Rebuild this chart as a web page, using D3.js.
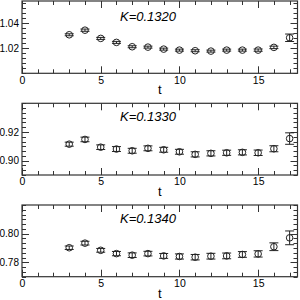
<!DOCTYPE html>
<html><head><meta charset="utf-8">
<script src="https://cdn.jsdelivr.net/npm/d3@7"></script>
<style>body{margin:0;background:#fff}svg{display:block}text{font-family:"Liberation Sans",Arial,sans-serif}</style>
</head><body>
<script>
// ---- data ----
const tValues = [3,4,5,6,7,8,9,10,11,12,13,14,15,16,17];
const panelLabels = ["K=0.1320","K=0.1330","K=0.1340"];
const values1320 = [1.0309,1.0346,1.0280,1.0248,1.0213,1.0210,1.0194,1.0186,1.0181,1.0178,1.0186,1.0186,1.0186,1.0208,1.0285];
const errors1320 = [0.0008,0.0009,0.0008,0.0008,0.0008,0.0008,0.0008,0.0008,0.0008,0.0008,0.0008,0.0008,0.0009,0.0010,0.0030];
const values1330 = [0.9115,0.9148,0.9094,0.9081,0.9069,0.9086,0.9076,0.9062,0.9044,0.9051,0.9055,0.9058,0.9055,0.9083,0.9154];
const errors1330 = [0.0014,0.0016,0.0016,0.0017,0.0017,0.0017,0.0017,0.0017,0.0018,0.0018,0.0018,0.0018,0.0019,0.0021,0.0040];
const values1340 = [0.7902,0.7934,0.7884,0.7861,0.7850,0.7861,0.7845,0.7841,0.7836,0.7843,0.7845,0.7855,0.7859,0.7909,0.7971];
const errors1340 = [0.0012,0.0013,0.0013,0.0015,0.0016,0.0016,0.0017,0.0018,0.0019,0.0020,0.0020,0.0020,0.0022,0.0027,0.0048];
const xDomain = [0, 17.5];
const xMajorTicks = [0,5,10,15];
const xMinorTicks = d3.range(0,18,1);
const yDomains = [[1.0,1.058],[0.89,0.94],[0.77,0.82]];
const yMajorTicks = [[1.02,1.04],[0.90,0.92],[0.78,0.80]];
const yMinorSteps = [0.004, 0.02/6, 0.02/6];
const yTickFormat = d3.format(".2f");
const xLabel = "t";

// ---- layout ----
const left = 22, right = 297.5;
const tops = [1, 103.3, 205];
const bottoms = [73.3, 175, 276.7];
const labelOffsets = [20, 18, 17.5];
const labelX = 120;
const frameColor = "#333";

const svg = d3.select("body").append("svg").attr("width",300).attr("height",300);
const x = d3.scaleLinear().domain(xDomain).range([left,right]);

const seriesValues = [values1320, values1330, values1340];
const seriesErrors = [errors1320, errors1330, errors1340];

seriesValues.forEach((vals, p) => {
  const y = d3.scaleLinear().domain(yDomains[p]).range([bottoms[p], tops[p]]);
  const g = svg.append("g");
  const minorY = [];
  for (let k = 0; ; k++) {
    const v = yMajorTicks[p][0] + k*yMinorSteps[p];
    if (v > yDomains[p][1] + 1e-9) break;
    minorY.push(v);
  }
  for (let k = 1; ; k++) {
    const v = yMajorTicks[p][0] - k*yMinorSteps[p];
    if (v < yDomains[p][0] - 1e-9) break;
    minorY.push(v);
  }
  const isMajorY = v => yMajorTicks[p].some(m => Math.abs(m - v) < 1e-7);
  const isMajorX = v => xMajorTicks.includes(v);

  // ticks: bottom (inward)
  const axB = d3.axisBottom(x).tickValues(xMinorTicks).tickSize(0).tickFormat("");
  // draw tick marks manually via scales
  const tk = g.append("g").attr("stroke", frameColor).attr("stroke-width",1);
  xMinorTicks.forEach(v => {
    const L = isMajorX(v) ? 7 : 4;
    const xx = Math.round(x(v)) + 0.5;
    tk.append("line").attr("x1",xx).attr("x2",xx).attr("y1",bottoms[p]).attr("y2",bottoms[p]-L);
    tk.append("line").attr("x1",xx).attr("x2",xx).attr("y1",tops[p]).attr("y2",tops[p]+L);
  });
  minorY.forEach(v => {
    const L = isMajorY(v) ? 7 : 4;
    const yy = Math.round(y(v)) + 0.5;
    tk.append("line").attr("x1",left).attr("x2",left+L).attr("y1",yy).attr("y2",yy);
    tk.append("line").attr("x1",right).attr("x2",right-L).attr("y1",yy).attr("y2",yy);
  });

  // tick labels via axes
  const ax = g.append("g").attr("transform",`translate(0,${bottoms[p]})`)
    .call(d3.axisBottom(x).tickValues(xMajorTicks).tickSize(0).tickPadding(3).tickFormat(d3.format("d")));
  ax.select(".domain").remove();
  ax.selectAll("text").attr("font-size",10.5).attr("fill","#000").attr("dy","0.71em");
  const ay = g.append("g").attr("transform",`translate(${left},0)`)
    .call(d3.axisLeft(y).tickValues(yMajorTicks[p]).tickSize(0).tickPadding(3).tickFormat(yTickFormat));
  ay.select(".domain").remove();
  ay.selectAll("text").attr("font-size",10).attr("fill","#000");

  // frame
  g.append("rect").attr("x",left).attr("y",tops[p]).attr("width",right-left).attr("height",bottoms[p]-tops[p])
    .attr("fill","none").attr("stroke",frameColor).attr("stroke-width",1.2);

  // x label
  g.append("text").attr("x",(left+right)/2).attr("y",bottoms[p]+21).attr("text-anchor","middle")
    .attr("font-size",13).text(xLabel);

  // panel label
  g.append("text").attr("x",labelX).attr("y",tops[p]+labelOffsets[p]).attr("font-size",13)
    .attr("font-style","italic").text(panelLabels[p]);

  // error bars and points
  const pts = g.append("g");
  tValues.forEach((t, i) => {
    const cx = x(t), v = vals[i], e = seriesErrors[p][i];
    const y1 = y(v + e), y2 = y(v - e);
    pts.append("line").attr("x1",cx).attr("x2",cx).attr("y1",y1).attr("y2",y2).attr("stroke","#222").attr("stroke-width",1);
    pts.append("line").attr("x1",cx-4.5).attr("x2",cx+4.5).attr("y1",y1).attr("y2",y1).attr("stroke","#222").attr("stroke-width",1);
    pts.append("line").attr("x1",cx-4.5).attr("x2",cx+4.5).attr("y1",y2).attr("y2",y2).attr("stroke","#222").attr("stroke-width",1);
    pts.append("circle").attr("cx",cx).attr("cy",y(v)).attr("r",3.3).attr("fill","none").attr("stroke","#222").attr("stroke-width",1);
  });
});
</script>
</body></html>
